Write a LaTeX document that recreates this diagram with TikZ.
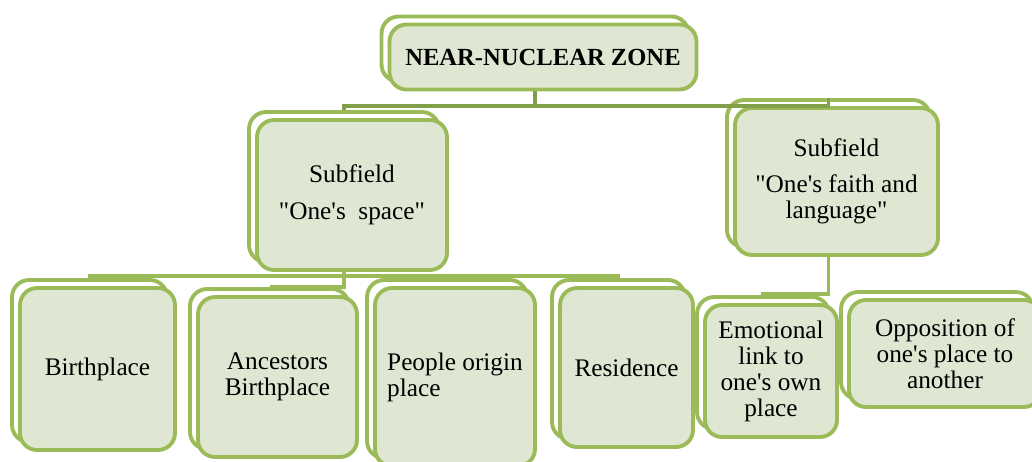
\documentclass[tikz,border=0pt]{standalone}
\usepackage{fontspec}
\setmainfont{Liberation Serif}[Ligatures=TeXOff]
\usetikzlibrary{%
  shadows,% wg. copy shadow
  positioning,%
  calc%
}

\definecolor{boxgreen}{HTML}{9BBB59}
\definecolor{boxfill}{HTML}{DFE7D2}
\definecolor{linkgreen}{HTML}{82A04A}

\tikzset{
  field/.style={draw=boxgreen, fill=boxfill, line width=2.2pt, rounded corners=0.34cm,
    align=center, inner sep=2pt,
    font=\fontsize{14.4}{14.8}\selectfont,
    copy shadow={shadow xshift=-0.16cm, shadow yshift=0.16cm, fill=white, draw=boxgreen, line width=2.2pt}},
  link/.style={draw=boxgreen, line width=2pt},
  toplink/.style={draw=linkgreen, line width=2pt}
}

\begin{document}
\begin{tikzpicture}[x=0.02cm, y=-0.02cm]
\useasboundingbox (0,0) rectangle (1032,461);

% -------- zone and subfields
\node [field, minimum width=6.14cm, minimum height=1.3cm, font=\fontsize{14}{14}\selectfont\bfseries]
  (zone) at (543,57) {NEAR-NUCLEAR ZONE};
\node [field, minimum width=3.8cm, minimum height=3cm] (space) at (352,195)
  {Subfield\\[6pt] "One's~~space"};
\node [field, minimum width=4.06cm, minimum height=2.94cm] (faith) at (836.5,181.5)
  {Subfield\\[6pt] "One's faith and\\ language"};

% -------- lower row
\node [field, minimum width=3.1cm, minimum height=3.24cm] (birth) at (97.5,369) {Birthplace};
\node [field, minimum width=3.18cm, minimum height=3.2cm] (ancest) at (277.5,377) {Ancestors\\ Birthplace};
\node [field, minimum width=3.2cm, minimum height=3.56cm, align=left] (origin) at (455,377) {People origin\\ place};
\node [field, minimum width=2.66cm, minimum height=3.18cm] (resid) at (626.5,367.5) {Residence};
\node [field, minimum width=2.64cm, minimum height=2.64cm] (emot) at (771,371)
  {Emotional\\ link to\\ one's own\\ place};
\node [field, minimum width=3.84cm, minimum height=2.14cm] (oppos) at (945,353.5)
  {Opposition of\\ one's place to\\ another};

% -------- connectors
\draw [toplink] ([xshift=-0.16cm]zone.south) -- ++(0,14.5) coordinate (zonebar);
\draw [toplink] (zonebar) -| ([shift={(-0.16cm,0.16cm)}]space.north);
\draw [toplink] (zonebar) -| ([shift={(-0.16cm,0.16cm)}]faith.north);

\draw [link] ([xshift=-0.16cm]space.south) -- ++(0,4) coordinate (spacebar);
\draw [link] (spacebar) -| ([shift={(-0.16cm,0.16cm)}]birth.north);
\draw [link] (spacebar) -| ([shift={(-0.16cm,0.16cm)}]origin.north);
\draw [link] (spacebar) -| ([shift={(-0.16cm,0.16cm)}]resid.north);
\draw [link] (spacebar) -- ++(0,11) -| ([shift={(-0.12cm,0.16cm)}]ancest.north);

\draw [link] ([xshift=-0.16cm]faith.south) -- ++(0,37) -| ([shift={(-0.16cm,0.16cm)}]emot.north);

\end{tikzpicture}
\end{document}
